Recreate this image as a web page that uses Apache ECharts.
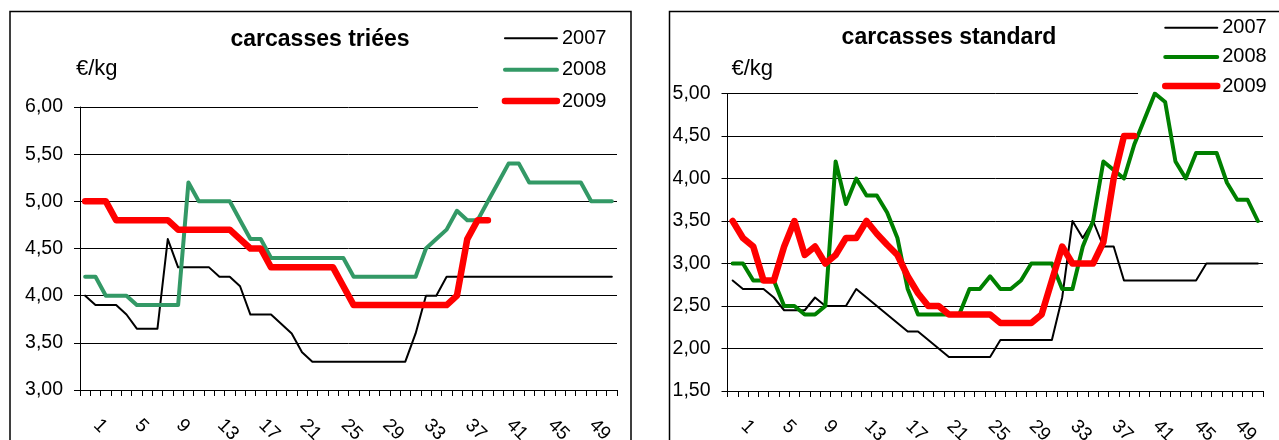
<!DOCTYPE html>
<html>
<head>
<meta charset="utf-8">
<script src="https://cdn.jsdelivr.net/npm/echarts@6/dist/echarts.min.js"></script>
<style>
html,body{margin:0;padding:0;background:#fff;}
#c{width:1279px;height:440px;}
</style>
</head>
<body>
<div id="c"></div>
<script>
// ---------- DATA ----------
const weeks = ['1','2','3','4','5','6','7','8','9','10','11','12','13','14','15','16','17','18','19','20',
  '21','22','23','24','25','26','27','28','29','30','31','32','33','34','35','36','37','38','39','40',
  '41','42','43','44','45','46','47','48','49','50','51','52'];

// carcasses triées (€/kg)
const trieesY2007 = [4.0,3.9,3.9,3.9,3.8,3.65,3.65,3.65,4.6,4.3,
  4.3,4.3,4.3,4.2,4.2,4.1,3.8,3.8,3.8,3.7,
  3.6,3.4,3.3,3.3,3.3,3.3,3.3,3.3,3.3,3.3,
  3.3,3.3,3.6,4.0,4.0,4.2,4.2,4.2,4.2,4.2,
  4.2,4.2,4.2,4.2,4.2,4.2,4.2,4.2,4.2,4.2,4.2,4.2];
const trieesY2008 = [4.2,4.2,4.0,4.0,4.0,3.9,3.9,3.9,3.9,3.9,
  5.2,5.0,5.0,5.0,5.0,4.8,4.6,4.6,4.4,4.4,
  4.4,4.4,4.4,4.4,4.4,4.4,4.2,4.2,4.2,4.2,
  4.2,4.2,4.2,4.5,4.6,4.7,4.9,4.8,4.8,5.0,
  5.2,5.4,5.4,5.2,5.2,5.2,5.2,5.2,5.2,5.0,5.0,5.0];
const trieesY2009 = [5.0,5.0,5.0,4.8,4.8,4.8,4.8,4.8,4.8,4.7,
  4.7,4.7,4.7,4.7,4.7,4.6,4.5,4.5,4.3,4.3,
  4.3,4.3,4.3,4.3,4.3,4.1,3.9,3.9,3.9,3.9,
  3.9,3.9,3.9,3.9,3.9,3.9,4.0,4.6,4.8,4.8];

// carcasses standard (€/kg)
const standardY2007 = [2.8,2.7,2.7,2.7,2.6,2.45,2.45,2.45,2.6,2.5,
  2.5,2.5,2.7,2.6,2.5,2.4,2.3,2.2,2.2,2.1,
  2.0,1.9,1.9,1.9,1.9,1.9,2.1,2.1,2.1,2.1,
  2.1,2.1,2.6,3.5,3.3,3.5,3.2,3.2,2.8,2.8,
  2.8,2.8,2.8,2.8,2.8,2.8,3.0,3.0,3.0,3.0,3.0,3.0];
const standardY2008 = [3.0,3.0,2.8,2.8,2.8,2.5,2.5,2.4,2.4,2.5,
  4.2,3.7,4.0,3.8,3.8,3.6,3.3,2.7,2.4,2.4,
  2.4,2.4,2.4,2.7,2.7,2.85,2.7,2.7,2.8,3.0,
  3.0,3.0,2.7,2.7,3.2,3.5,4.2,4.1,4.0,4.4,
  4.7,5.0,4.9,4.2,4.0,4.3,4.3,4.3,3.95,3.75,3.75,3.5];
const standardY2009 = [3.5,3.3,3.2,2.8,2.8,3.2,3.5,3.1,3.2,3.0,
  3.1,3.3,3.3,3.5,3.35,3.22,3.1,2.85,2.65,2.5,
  2.5,2.4,2.4,2.4,2.4,2.4,2.3,2.3,2.3,2.3,
  2.4,2.8,3.2,3.0,3.0,3.0,3.25,4.0,4.5,4.5];

const yearNames = ['2007','2008','2009'];
const titles = ['carcasses triées','carcasses standard'];
const unitLabel = '€/kg';

// ---------- CHART ----------
const FONT = '"Liberation Sans", Arial, Helvetica, sans-serif';
const fmt = v => v.toFixed(2).replace('.', ',');

function xAxisCfg(gi) {
  return {
    type: 'category', gridIndex: gi, data: weeks, boundaryGap: true,
    axisLine: {show: true, onZero: false, lineStyle: {color: '#000', width: 1}},
    axisTick: {show: true, interval: 0, length: 6, inside: false, alignWithLabel: false,
      lineStyle: {color: '#000', width: 1}},
    axisLabel: {show: true, interval: 3, rotate: -45, margin: 21, padding: [0,0,0,16],
      color: '#000', fontSize: 19, fontFamily: FONT},
    splitLine: {show: false}
  };
}
function yAxisCfg(gi, min, max) {
  return {
    type: 'value', gridIndex: gi, min: min, max: max, interval: 0.5,
    axisLine: {show: true, lineStyle: {color: '#000', width: 1}},
    axisTick: {show: true, length: 6, inside: false, lineStyle: {color: '#000', width: 1}},
    axisLabel: {show: true, margin: 17, formatter: fmt, color: '#000', fontSize: 19.5, fontFamily: FONT},
    splitLine: {show: true, lineStyle: {color: '#000', width: 1}}
  };
}
function ser(name, data, color, width, gi) {
  return {
    name: name, type: 'line', xAxisIndex: gi, yAxisIndex: gi, data: data,
    symbol: 'none', showSymbol: false, z: 5, silent: true,
    lineStyle: {color: color, width: width, cap: 'round', join: 'round'},
    itemStyle: {color: color},
    emphasis: {disabled: true}
  };
}
const colorsL = ['#000000', '#339966', '#ff0000'];
const colorsR = ['#000000', '#008000', '#ff0000'];
const widths = [2, 4, 6.5];

function legendCfg(left, top, gap, colors, padL, padR) {
  return {
    orient: 'vertical', left: left, top: top, itemWidth: 52, itemHeight: 14, itemGap: gap,
    padding: [4, padR, 4, padL], backgroundColor: '#ffffff', borderWidth: 0,
    selectedMode: false,
    itemStyle: {opacity: 0, borderWidth: 0},
    textStyle: {color: '#000', fontSize: 20, fontFamily: FONT},
    data: yearNames.map((n, i) => ({
      name: n,
      lineStyle: {color: colors[i], width: widths[i], cap: 'round', opacity: 1},
      itemStyle: {opacity: 0, borderWidth: 0}
    }))
  };
}

const chart = echarts.init(document.getElementById('c'), null, {renderer: 'canvas', width: 1279, height: 440});
chart.setOption({
  animation: false,
  backgroundColor: '#ffffff',
  grid: [
    {left: 80, right: 662, top: 107, bottom: 50, outerBoundsMode: 'none', containLabel: false},
    {left: 727.5, right: 16, top: 93.5, bottom: 49, outerBoundsMode: 'none', containLabel: false}
  ],
  xAxis: [xAxisCfg(0), xAxisCfg(1)],
  yAxis: [yAxisCfg(0, 3, 6), yAxisCfg(1, 1.5, 5)],
  legend: [
    legendCfg(478, 24.3, 11.4, colorsL, 23.7, 22),
    legendCfg(1138, 13.7, 9.2, colorsR, 24, 8)
  ],
  series: [
    ser(yearNames[0], trieesY2007, colorsL[0], widths[0], 0),
    ser(yearNames[1], trieesY2008, colorsL[1], widths[1], 0),
    ser(yearNames[2], trieesY2009, colorsL[2], widths[2], 0),
    ser(yearNames[0], standardY2007, colorsR[0], widths[0], 1),
    ser(yearNames[1], standardY2008, colorsR[1], widths[1], 1),
    ser(yearNames[2], standardY2009, colorsR[2], widths[2], 1)
  ],
  graphic: [
    {type: 'rect', silent: true, z: 100, shape: {x: 10, y: 11.5, width: 621, height: 500},
      style: {fill: 'transparent', stroke: '#000', lineWidth: 1.5}},
    {type: 'rect', silent: true, z: 100, shape: {x: 669.5, y: 11.5, width: 700, height: 500},
      style: {fill: 'transparent', stroke: '#000', lineWidth: 1.5}},
    {type: 'text', silent: true, z: 100, x: 320, y: 40,
      style: {text: titles[0], align: 'center', verticalAlign: 'middle', fill: '#000',
        font: 'bold 23px ' + FONT}},
    {type: 'text', silent: true, z: 100, x: 949, y: 38,
      style: {text: titles[1], align: 'center', verticalAlign: 'middle', fill: '#000',
        font: 'bold 23px ' + FONT}},
    {type: 'text', silent: true, z: 100, x: 76, y: 69,
      style: {text: unitLabel, align: 'left', verticalAlign: 'middle', fill: '#000',
        font: '22px ' + FONT}},
    {type: 'text', silent: true, z: 100, x: 731.5, y: 69,
      style: {text: unitLabel, align: 'left', verticalAlign: 'middle', fill: '#000',
        font: '22px ' + FONT}}
  ]
});
</script>
</body>
</html>
